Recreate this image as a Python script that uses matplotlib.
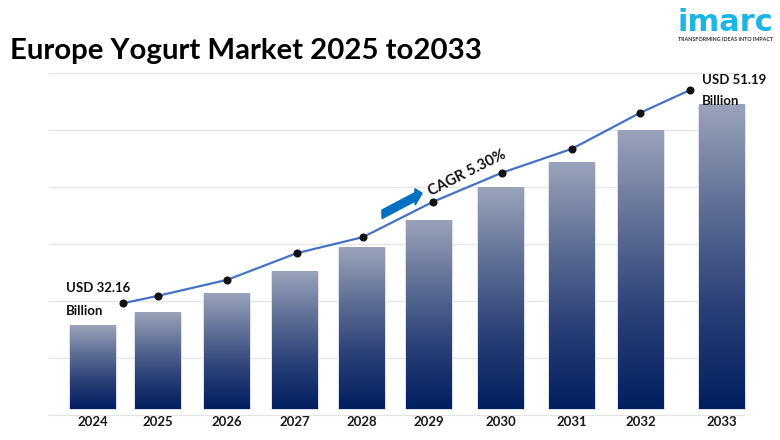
import numpy as np
import matplotlib
matplotlib.use("Agg")
import matplotlib.pyplot as plt
from matplotlib.colors import LinearSegmentedColormap
from matplotlib.patches import FancyArrow

years = ["2024", "2025", "2026", "2027", "2028", "2029", "2030", "2031", "2032", "2033"]
bar_centres = [93, 158, 227, 295, 362, 429, 501, 572, 641, 722]
bar_values = [15.7, 18.0, 21.3, 25.2, 29.4, 34.2, 39.9, 44.3, 49.9, 54.5]
line_x = [123, 158, 227, 297, 363, 433, 502, 572, 640, 690]
line_values = [19.6, 20.9, 23.7, 28.4, 31.2, 37.4, 42.5, 46.7, 53.0, 57.0]
grid_values = [0, 10, 20, 30, 40, 50, 60]

plt.rcParams["font.family"] = ["Lato", "DejaVu Sans"]
fig = plt.figure(figsize=(7.8, 4.4), dpi=100)
ax = fig.add_axes([0, 0, 1, 1])
ax.axis("off")

ax.hlines(grid_values, 48, 745, color="#e4e4e4", lw=0.9, zorder=1)

cmap = LinearSegmentedColormap.from_list("bar", ["#9aa3ba", "#5f6f96", "#2a4077", "#001f60"])
grad = np.linspace(0, 1, 256).reshape(-1, 1)
bar_w, bar_floor = 46, 1.05
for c, v in zip(bar_centres, bar_values):
    ax.bar(c, v - bar_floor + 0.1, bar_w + 2, bottom=bar_floor - 0.15, color="#dfe1e8", zorder=1.5)
    ax.imshow(grad, cmap=cmap, aspect="auto", zorder=2,
              extent=(c - bar_w / 2, c + bar_w / 2, bar_floor, v))
ax.set_xlim(0, 780)
ax.set_ylim(-4.39, 72.8)

ax.plot(line_x, line_values, color="#4472c4", lw=1.6, zorder=3)
ax.plot(line_x, line_values, "o", color="#111111", ms=4.8, zorder=4)

for c, y in zip(bar_centres, years):
    ax.text(c, -1.3, y, ha="center", va="center", fontsize=9.5, fontweight="bold", color="#1a1a1a")

ax.text(10, 63.9, "Europe Yogurt Market 2025 to2033", fontsize=21.2, fontweight="bold",
        color="#000000", ha="left", va="center")
ax.text(66, 22.2, "USD 32.16", fontsize=9.5, fontweight="bold", color="#111111", va="center")
ax.text(66, 18.3, "Billion", fontsize=9.5, fontweight="bold", color="#111111", va="center")
ax.text(702, 58.7, "USD 51.19", fontsize=9.5, fontweight="bold", color="#111111", va="center")
ax.text(702, 55.1, "Billion", fontsize=9.5, fontweight="bold", color="#111111", va="center")
ax.text(467.5, 42.5, "CAGR 5.30%", fontsize=10.6, fontweight="bold", color="#111111",
        rotation=27, rotation_mode="anchor", ha="center", va="center")

ax.add_patch(FancyArrow(382, 35.2, 40, 3.7, width=1.5, head_width=2.9, head_length=7,
                        length_includes_head=True, color="#0070c0", zorder=3))

ax.text(677, 67.3, "imarc", fontsize=22, fontweight="bold", color="#1cb5e8", va="baseline", ha="left",
        family="DejaVu Sans")
ax.text(678, 65.9, "TRANSFORMING IDEAS INTO IMPACT", fontsize=3.9, fontweight="bold",
        color="#333333", va="center", ha="left")

fig.savefig("out.png", dpi=100)
